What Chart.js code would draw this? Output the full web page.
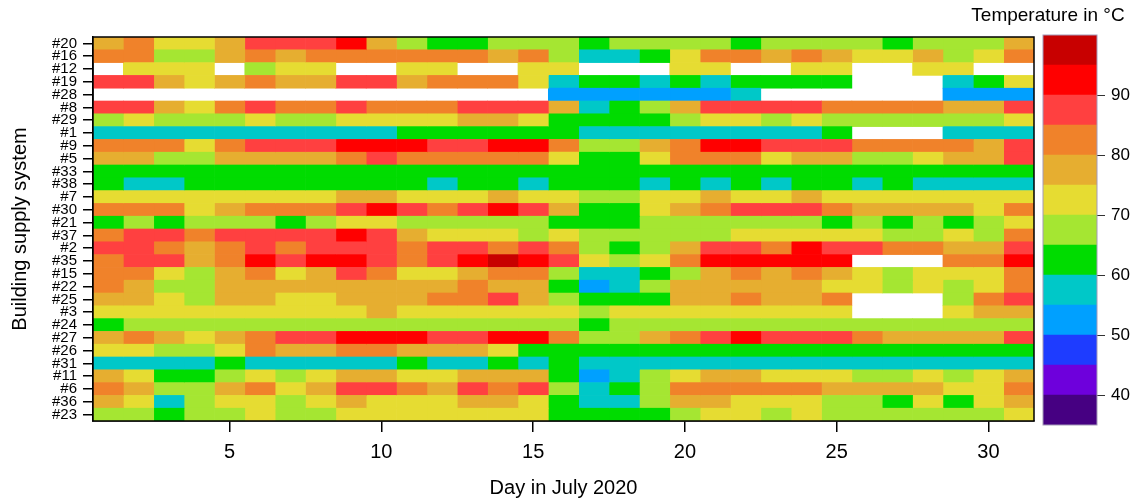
<!DOCTYPE html>
<html lang="en">
<head>
<meta charset="UTF-8">
<title>Supply temperature per building, July 2020</title>
<script src="https://cdn.jsdelivr.net/npm/chart.js"></script>
<style>
  body { margin: 0; background: #fff; font-family: "Liberation Sans", Arial, sans-serif; }
  #wrap { position: relative; width: 1137px; height: 504px; }
  #heat { position: absolute; left: 0; top: 0; }
  #bar { position: absolute; left: 960px; top: 0; }
  #barTitle { position: absolute; left: 960px; top: 5px; width: 176px; text-align: center; font-size: 19px; line-height: 20px; color: #000; }
</style>
</head>
<body>
<div id="wrap">
  <canvas id="heat" width="1137" height="504"></canvas>
  <canvas id="bar" width="177" height="504"></canvas>
  <div id="barTitle">Temperature in °C</div>
</div>
<script>
// daily mean supply temperature (°C) per building, days 1..31 of July 2020, null = no data
const days = [1,2,3,4,5,6,7,8,9,10,11,12,13,14,15,16,17,18,19,20,21,22,23,24,25,26,27,28,29,30,31];
const dayTicks = [5, 10, 15, 20, 25, 30];
const buildings = ['#20','#16','#12','#19','#28','#8','#29','#1','#9','#5','#33','#38','#7','#30','#21',
                   '#37','#2','#35','#15','#22','#25','#3','#24','#27','#26','#31','#11','#6','#36','#23'];

const b20 = [77,82,72,72,77,87,87,87,92,77,67,62,62,67,67,67,62,67,67,67,67,62,67,67,67,67,62,67,67,67,77];
const b16 = [82,82,67,67,77,82,77,82,82,82,82,82,82,77,82,67,57,57,62,72,82,82,77,82,77,72,72,77,67,72,82];
const b12 = [null,72,72,72,null,67,72,72,null,null,72,72,null,null,72,72,null,null,null,72,72,null,null,72,72,null,null,72,72,null,null];
const b19 = [87,87,77,72,77,82,77,77,87,87,77,82,82,82,72,57,62,62,57,62,57,62,62,62,62,null,null,null,57,62,72];
const b28 = [null,null,null,null,null,null,null,null,null,null,null,null,null,null,null,52,52,52,52,52,52,57,null,null,null,null,null,null,52,52,52];
const b8  = [87,87,77,72,82,87,82,82,87,82,82,82,87,87,87,77,57,62,67,77,87,87,87,87,82,82,82,82,77,77,87];
const b29 = [67,72,67,67,67,72,67,67,72,72,72,72,77,77,72,62,62,62,62,67,72,72,67,72,67,67,67,67,67,67,72];
const b1  = [57,57,57,57,57,57,57,57,57,57,62,62,62,62,62,62,57,57,57,57,57,57,57,57,62,null,null,null,57,57,57];
const b9  = [82,82,82,72,82,87,87,87,92,92,92,87,87,92,92,82,67,67,77,82,92,92,87,87,87,82,82,82,82,77,87];
const b5  = [77,77,67,67,77,77,77,77,82,87,82,82,82,82,82,72,62,62,72,82,82,82,72,77,77,67,67,72,77,77,87];
const b33 = [62,62,62,62,62,62,62,62,62,62,62,62,62,62,62,62,62,62,62,62,62,62,62,62,62,62,62,62,62,62,62];
const b38 = [62,57,57,62,62,62,62,62,62,62,62,57,62,62,57,62,62,62,57,62,57,62,57,62,62,57,62,57,57,57,57];
const b7  = [72,72,72,72,72,72,72,72,77,77,72,72,72,77,72,72,67,67,72,72,77,72,72,77,72,72,72,72,72,72,72];
const b30 = [82,82,82,72,77,82,82,82,87,92,87,82,87,92,87,77,62,62,72,77,82,87,87,87,82,77,77,77,77,72,82];
const b21 = [62,67,62,67,67,67,62,67,72,72,67,67,67,67,67,62,62,62,67,67,67,67,67,67,62,67,62,67,62,67,72];
const b37 = [82,87,87,82,87,87,87,87,92,87,77,72,72,72,67,72,67,67,67,67,67,72,72,72,72,72,67,67,72,67,82];
const b2  = [87,87,82,77,82,87,82,87,87,87,82,87,87,82,87,82,67,62,67,77,87,87,82,92,87,87,82,82,77,77,87];
const b35 = [82,87,87,77,82,92,87,92,92,87,82,87,92,97,92,87,72,67,72,82,92,92,92,92,92,null,null,null,82,82,92];
const b15 = [82,82,72,67,77,82,72,77,87,82,72,72,77,82,82,67,57,57,62,67,77,82,77,82,77,72,67,72,72,72,82];
const b22 = [82,77,67,67,77,77,77,77,77,77,77,77,82,77,77,62,52,57,67,77,77,77,77,77,72,72,67,72,67,72,82];
const b25 = [77,77,72,67,77,77,72,72,77,77,77,82,82,87,77,67,62,62,62,77,77,82,77,77,82,null,null,null,67,82,87];
const b3  = [72,72,72,72,72,72,72,72,72,77,72,72,72,72,72,72,67,72,72,72,72,72,72,72,72,null,null,null,72,77,77];
const b24 = [62,67,67,67,67,67,67,67,67,67,67,67,67,67,67,67,62,67,67,67,67,67,67,67,67,67,67,67,67,67,67];
const b27 = [77,82,77,72,77,82,87,87,92,92,92,87,87,92,92,82,67,67,77,82,87,92,87,87,87,82,77,77,77,77,87];
const b26 = [72,72,67,67,72,82,77,77,82,82,77,77,77,72,62,62,62,62,62,62,62,62,62,62,62,62,62,62,62,62,62];
const b31 = [57,57,57,57,62,57,57,57,57,57,62,57,57,62,57,62,57,57,57,57,57,57,57,57,57,57,57,57,57,57,57];
const b11 = [77,72,62,62,67,72,67,72,77,77,72,72,77,77,77,62,52,57,67,72,77,77,72,72,72,67,67,72,67,72,77];
const b6  = [82,77,67,67,77,82,72,77,87,87,82,77,87,82,87,67,57,62,67,82,82,82,82,82,77,77,77,77,72,72,82];
const b36 = [77,72,57,67,72,72,67,72,77,72,72,72,77,77,72,62,57,57,67,77,77,72,72,72,67,67,62,72,62,72,77];
const b23 = [67,67,62,67,67,72,67,67,72,72,72,72,72,72,72,62,62,62,62,67,72,72,67,72,67,67,67,67,67,67,72];

const rows = [b20,b16,b12,b19,b28,b8,b29,b1,b9,b5,b33,b38,b7,b30,b21,
              b37,b2,b35,b15,b22,b25,b3,b24,b27,b26,b31,b11,b6,b36,b23];

// colour key: 5 degree bands from 35 to 100
const bandEdges = [35,40,45,50,55,60,65,70,75,80,85,90,95,100];
const bandColors = ['#460082','#6e00dc','#1e3cff','#00a0ff','#00c8c8','#00dc00',
                    '#a5e632','#e6dc32','#e6ae30','#f0822a','#ff4040','#ff0000','#c80000'];
const keyTicks = [40, 50, 60, 70, 80, 90];

Chart.defaults.font.family = '"Liberation Sans", Arial, sans-serif';
Chart.defaults.color = '#000';

function colorOf(v) {
  if (v == null) return 'rgba(0,0,0,0)';
  for (let i = 0; i < bandColors.length; i++) {
    if (v < bandEdges[i + 1]) return bandColors[i];
  }
  return bandColors[bandColors.length - 1];
}

const frame = {
  id: 'frame',
  afterDatasetsDraw(chart, args, opts) {
    const { ctx, chartArea: a } = chart;
    ctx.save();
    ctx.strokeStyle = opts.color;
    ctx.lineWidth = opts.width;
    ctx.strokeRect(a.left, a.top, a.right - a.left, a.bottom - a.top);
    ctx.restore();
  }
};

// one floating bar per day and building
const heatSets = days.map((d, j) => ({
  data: rows.map(r => r[j] == null ? null : [d - 0.5, d + 0.5]),
  backgroundColor: rows.map(r => colorOf(r[j])),
  borderWidth: 0,
  grouped: false,
  barPercentage: 1,
  categoryPercentage: 1
}));

new Chart(document.getElementById('heat'), {
  type: 'bar',
  data: { labels: buildings, datasets: heatSets },
  options: {
    indexAxis: 'y',
    responsive: false,
    animation: false,
    layout: { padding: { top: 37, right: 103, bottom: 0, left: 0 } },
    plugins: {
      legend: { display: false },
      tooltip: { enabled: false },
      frame: { color: '#000', width: 1.5 }
    },
    scales: {
      x: {
        type: 'linear',
        min: 0.5,
        max: 31.5,
        afterBuildTicks: s => { s.ticks = dayTicks.map(v => ({ value: v })); },
        afterFit: s => { s.height = 83; },
        grid: { drawOnChartArea: false, tickLength: 11, color: '#000', lineWidth: 1.5 },
        border: { display: true, color: '#000', width: 1.5 },
        ticks: { font: { size: 20 }, padding: 8, maxRotation: 0 },
        title: { display: true, text: 'Day in July 2020', font: { size: 20 }, padding: { top: 0, bottom: 4 } }
      },
      y: {
        type: 'category',
        offset: true,
        afterFit: s => { s.width = 93; },
        grid: { offset: false, drawOnChartArea: false, tickLength: 10, color: '#000', lineWidth: 1.5 },
        border: { display: true, color: '#000', width: 1.5 },
        ticks: { autoSkip: false, font: { size: 15 }, padding: 6 },
        title: { display: true, text: 'Building supply system', font: { size: 20 }, padding: { top: 8, bottom: 0 } }
      }
    }
  },
  plugins: [frame]
});

// colour key
const keySets = bandColors.map((c, i) => ({
  data: [[bandEdges[i], bandEdges[i + 1]]],
  backgroundColor: c,
  borderWidth: 0,
  grouped: false,
  barPercentage: 1,
  categoryPercentage: 1
}));

new Chart(document.getElementById('bar'), {
  type: 'bar',
  data: { labels: [''], datasets: keySets },
  options: {
    responsive: false,
    animation: false,
    layout: { padding: { top: 35, right: 0, bottom: 79, left: 83 } },
    plugins: {
      legend: { display: false },
      tooltip: { enabled: false },
      frame: { color: '#a49ab8', width: 1 }
    },
    scales: {
      x: { display: false },
      y: {
        type: 'linear',
        position: 'right',
        min: 35,
        max: 100,
        afterBuildTicks: s => { s.ticks = keyTicks.map(v => ({ value: v })); },
        afterFit: s => { s.width = 40; },
        grid: { drawOnChartArea: false, tickLength: 8, color: '#333', lineWidth: 1 },
        border: { display: false },
        ticks: { font: { size: 17 }, padding: 6 }
      }
    }
  },
  plugins: [frame]
});
</script>
</body>
</html>
